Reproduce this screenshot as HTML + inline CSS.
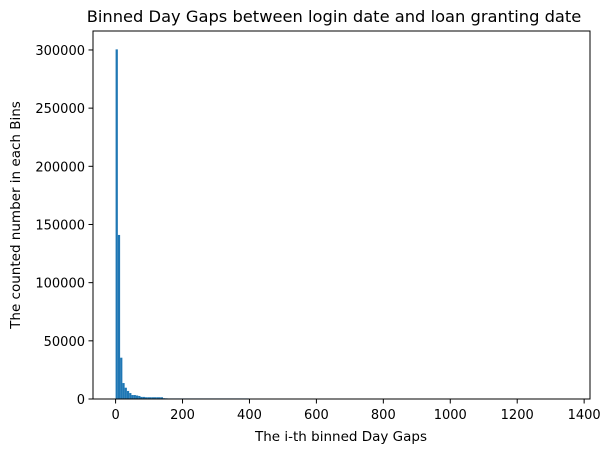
<!DOCTYPE html>
<html><head><meta charset="utf-8"><style>
body{margin:0;background:#fff;}
svg text{font-family:"DejaVu Sans","Liberation Sans",sans-serif;fill:#000;}
</style></head><body>
<svg id="chart" width="611" height="453">
<text x="334" y="22" font-size="16.3" text-anchor="middle">Binned Day Gaps between login date and loan granting date</text>
<g id="bars"></g>
<rect x="93" y="31" width="497" height="368" fill="none" stroke="#000" stroke-width="1"/>
<g id="xticks"></g>
<g id="yticks"></g>
<text x="341" y="441" font-size="13.5" text-anchor="middle">The i-th binned Day Gaps</text>
<text transform="translate(20,215) rotate(-90)" font-size="13.5" text-anchor="middle">The counted number in each Bins</text>
</svg>
<script>
const binWidth = 6.75;
const binCounts = [300500,141000,35500,13700,9700,6900,5100,3400,3400,3000,2600,1800,1800,1500,1500,1500,1500,1500,1500,1500,1500,700,600,500,500,500,500,500,500,500,500,500,500,500,500,500,500,500,500,500,500,500,500,500,500,500,500,500,500,500,500,500,500,500,500,500,500,500,500,0,0,300,0,0,300,0,0,250,250,250,250,0,0,300,0,0,0,0,0,0,0,0,0,0,0,0,0,0,0,0,0,0,0,0,0,0,250,0,0,0,0,0,0,250,0,0,0,0,0,0,0,0,0,0,0,0,0,0,0,0,0,0,0,0,0,0,0,0,0,0,0,0,0,0,0,0,0,0,0,0,0,0,0,0,0,0,0,0,0,0,0,0,0,0,0,0,0,0,0,0,0,0,0,0,0,0,0,0,0,0,0,0,0,0,0,0,0,0,0,0,0,0,0,0,0,0,0,0,0,0,0,0,0,0,0,0,0,0,0,0,0,0,0];
const xTicks = [0,200,400,600,800,1000,1200,1400];
const yTicks = [0,50000,100000,150000,200000,250000,300000];
const X0=93,X1=590,Y0=399,Y1=31,xmin=-67.5,xmax=1417.5,ymax=316300;
const ns="http://www.w3.org/2000/svg";
const sx=v=>X0+(v-xmin)/(xmax-xmin)*(X1-X0);
const sy=v=>Y0-v/ymax*(Y0-Y1);
const bars=document.getElementById('bars');
binCounts.forEach((c,i)=>{
  if(c<=0) return;
  const r=document.createElementNS(ns,'rect');
  const x=sx(i*binWidth), w=sx((i+1)*binWidth)-x;
  r.setAttribute('x',x);r.setAttribute('width',w);
  r.setAttribute('y',sy(c));r.setAttribute('height',Y0-sy(c));
  r.setAttribute('fill','#1f77b4');
  
  
  bars.appendChild(r);
});
const xg=document.getElementById('xticks');
xTicks.forEach(t=>{
  const x=sx(t);
  const l=document.createElementNS(ns,'line');
  l.setAttribute('x1',x);l.setAttribute('x2',x);l.setAttribute('y1',399);l.setAttribute('y2',403.5);l.setAttribute('stroke','#000');
  
  
  xg.appendChild(l);
  const tx=document.createElementNS(ns,'text');
  tx.setAttribute('x',x);tx.setAttribute('y',419);tx.setAttribute('font-size','13');tx.setAttribute('text-anchor','middle');
  tx.textContent=t;
  
  
  xg.appendChild(tx);
});
const yg=document.getElementById('yticks');
yTicks.forEach(t=>{
  const y=sy(t);
  const l=document.createElementNS(ns,'line');
  l.setAttribute('x1',88.5);l.setAttribute('x2',93);l.setAttribute('y1',y);l.setAttribute('y2',y);l.setAttribute('stroke','#000');
  
  
  yg.appendChild(l);
  const tx=document.createElementNS(ns,'text');
  tx.setAttribute('x',85);tx.setAttribute('y',y+5);tx.setAttribute('font-size','13');tx.setAttribute('text-anchor','end');
  tx.textContent=t;
  
  
  yg.appendChild(tx);
});
</script>
</body></html>
